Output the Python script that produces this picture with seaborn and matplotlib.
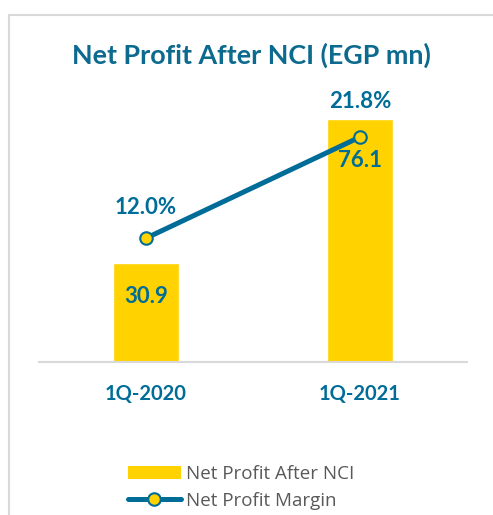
import pandas as pd
import matplotlib.pyplot as plt
import seaborn as sns
from matplotlib.lines import Line2D
from matplotlib.patches import Patch

# data
quarters = ["1Q-2020", "1Q-2021"]
net_profit = [30.9, 76.1]
margin = [12.0, 21.8]

GOLD = "#FFD200"
BLUE = "#006C98"
GRAY = "#D9D9D9"

sns.set_style("white")
plt.rcParams["font.family"] = ["Lato", "DejaVu Sans"]

df = pd.DataFrame({"quarter": quarters, "profit": net_profit, "margin": margin})

fig = plt.figure(figsize=(4.93, 5.15), dpi=100)
ax = fig.add_axes([0.079, 0.297, 0.868, 0.509])

sns.barplot(data=df, x="quarter", y="profit", color=GOLD, width=0.31,
            saturation=1, ax=ax)
ax.set_xlim(-0.5, 1.5)
ax.set_ylim(0, 82)

ax2 = ax.twinx()
sns.lineplot(x=[0, 1], y=margin, color=BLUE, linewidth=3.6, marker="o",
             markersize=9, markerfacecolor=GOLD, markeredgecolor=BLUE,
             markeredgewidth=1.5, ax=ax2)
ax2.set_ylim(0, 25.4)

for a in (ax, ax2):
    for s in a.spines.values():
        s.set_visible(False)
    a.set_yticks([])
    a.set_ylabel("")
    a.set_xlabel("")
ax.spines["bottom"].set_visible(True)
ax.spines["bottom"].set_color(GRAY)
ax.spines["bottom"].set_linewidth(1.5)

ax.tick_params(axis="x", length=0, pad=16)
for lbl in ax.get_xticklabels():
    lbl.set_fontsize(14.5)
    lbl.set_fontweight("bold")
    lbl.set_color(BLUE)

# bar value labels
for i, v in enumerate(net_profit):
    ax.text(i, v - (10.3 if i == 0 else 13), f"{v:.1f}", ha="center", va="center",
            fontsize=16, fontweight="bold", color=BLUE)

# margin labels
ax2.text(0, margin[0] + 2.95, f"{margin[0]:.1f}%", ha="center", va="center",
         fontsize=16, fontweight="bold", color=BLUE)
ax2.text(1, margin[1] + 3.4, f"{margin[1]:.1f}%", ha="center", va="center",
         fontsize=16, fontweight="bold", color=BLUE)

fig.text(0.510, 0.892, "Net Profit After NCI (EGP mn)", ha="center", va="center",
         fontsize=19.4, fontweight="bold", color="#0B6A8E")

handles = [Patch(facecolor=GOLD, edgecolor="none"),
           Line2D([0], [0], color=BLUE, linewidth=3.6, marker="o", markersize=9,
                  markerfacecolor=GOLD, markeredgecolor=BLUE, markeredgewidth=1.5)]
fig.legend(handles, ["Net Profit After NCI", "Net Profit Margin"],
           loc="upper left", bbox_to_anchor=(0.241, 0.115), frameon=False,
           prop={"family": ["Open Sans", "DejaVu Sans"], "size": 13.5},
           labelcolor="#595959", handlelength=2.8,
           handletextpad=0.3, borderpad=0, labelspacing=0.45)

# outer frame
fig.add_artist(Line2D([9 / 493, 9 / 493], [0, 1 - 15 / 515], color=GRAY, linewidth=1.5,
                      transform=fig.transFigure))
fig.add_artist(Line2D([9 / 493, 1], [1 - 15 / 515, 1 - 15 / 515], color=GRAY, linewidth=1.5,
                      transform=fig.transFigure))

fig.savefig("out.png", dpi=100)
